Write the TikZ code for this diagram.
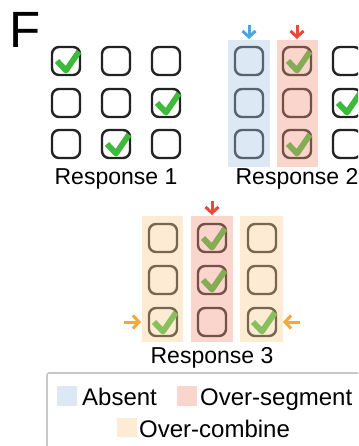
\documentclass[tikz,border=0pt]{standalone}
\usepackage{fontspec}
\setmainfont{Liberation Sans}
\usetikzlibrary{arrows.meta}
\definecolor{boxcol}{HTML}{222222}
\definecolor{chkgreen}{HTML}{3DBA3A}
\definecolor{blueov}{RGB}{168,198,228}
\definecolor{redov}{RGB}{242,150,125}
\definecolor{orov}{RGB}{250,205,145}
\definecolor{arrblue}{HTML}{4DA6DC}
\definecolor{arrred}{HTML}{E84A3A}
\definecolor{arrorange}{HTML}{F5A832}
\definecolor{legborder}{HTML}{C8C8C8}
\tikzset{
  cb/.style={draw=boxcol, line width=2.4pt, rounded corners=7pt, minimum width=28pt, minimum height=28pt, inner sep=0pt},
  chk/.style={draw=chkgreen, line width=5.8pt, line join=round, line cap=butt},
  colov/.style={fill=#1, fill opacity=0.4, draw=none},
  marker/.style={draw=#1, line width=3pt, -{Straight Barb[length=6pt,width=13pt]}},
  lbl/.style={font=\fontsize{23}{27}\selectfont, anchor=base, inner sep=0pt},
  leg/.style={font=\fontsize{24}{28}\selectfont, anchor=base west, inner sep=0pt},
}
\newcommand\ckbox[3]{\node[cb] (#1) at (#2,#3) {};}
\newcommand\ckmark[1]{\draw[chk] ([shift={(-9,0)}]#1.center) -- ++(9,9.5) -- ++(13,-19);}
\begin{document}
\begin{tikzpicture}[x=1pt,y=-1pt]
\useasboundingbox (0,0) rectangle (358,446);
\clip (0,0) rectangle (358,446);
% panel letter
\node[font=\fontsize{51}{55}\selectfont, anchor=base west, inner sep=0pt] (F) at (9,48) {F};
% Response 1
\ckbox{aa}{66}{61}\ckbox{ab}{116}{61}\ckbox{ac}{166}{61}
\ckbox{ad}{66}{103}\ckbox{ae}{116}{103}\ckbox{af}{166}{103}
\ckbox{ag}{66}{144}\ckbox{ah}{116}{144}\ckbox{ai}{166}{144}
\ckmark{aa}\ckmark{af}\ckmark{ah}
\node[lbl] (r1) at (116,185) {Response 1};
% Response 2
\ckbox{ba}{249}{61}\ckbox{bb}{297}{61}\ckbox{bc}{347}{61}
\ckbox{bd}{249}{103}\ckbox{be}{297}{103}\ckbox{bf}{347}{103}
\ckbox{bg}{249}{144}\ckbox{bh}{297}{144}\ckbox{bi}{347}{144}
\ckmark{bb}\ckmark{bh}\ckmark{bf}
\path[colov=blueov] (228,40) rectangle (270,167);
\path[colov=redov] (277,40) rectangle (318,167);
\coordinate (b1s) at (249,25); \coordinate (b1e) at (249,39);
\coordinate (b2s) at (297,25); \coordinate (b2e) at (297,39);
\draw[marker=arrblue] (b1s) -- (b1e);
\draw[marker=arrred] (b2s) -- (b2e);
\node[lbl] (r2) at (297,185) {Response 2};
% Response 3
\ckbox{ca}{163}{238}\ckbox{cb}{212}{238}\ckbox{cc}{262}{238}
\ckbox{cd}{163}{280}\ckbox{ce}{212}{280}\ckbox{cf}{262}{280}
\ckbox{cg}{163}{322}\ckbox{ch}{212}{322}\ckbox{ci}{262}{322}
\ckmark{cg}\ckmark{cb}\ckmark{ce}\ckmark{ci}
\path[colov=orov] (142,216) rectangle (183,342);
\path[colov=redov] (191,216) rectangle (233,342);
\path[colov=orov] (240,216) rectangle (283,342);
\coordinate (c1s) at (212,201); \coordinate (c1e) at (212,215);
\coordinate (c2s) at (124,322); \coordinate (c2e) at (141,322);
\coordinate (c3s) at (300,322); \coordinate (c3e) at (283,322);
\draw[marker=arrred] (c1s) -- (c1e);
\draw[marker=arrorange] (c2s) -- (c2e);
\draw[marker=arrorange] (c3s) -- (c3e);
\node[lbl] (r3) at (212,363) {Response 3};
% Legend
\draw[legborder, line width=1.6pt, rounded corners=2pt] (47,373) rectangle (420,480);
\path[colov=blueov] (57,386) rectangle (77,406);
\node[leg] (l1) at (82,405) {Absent};
\path[colov=redov] (177,386) rectangle (197,406);
\node[leg] (l2) at (200,405) {Over-segment};
\path[colov=orov] (117,418) rectangle (137,437);
\node[leg] (l3) at (139,437) {Over-combine};
\end{tikzpicture}
\end{document}
